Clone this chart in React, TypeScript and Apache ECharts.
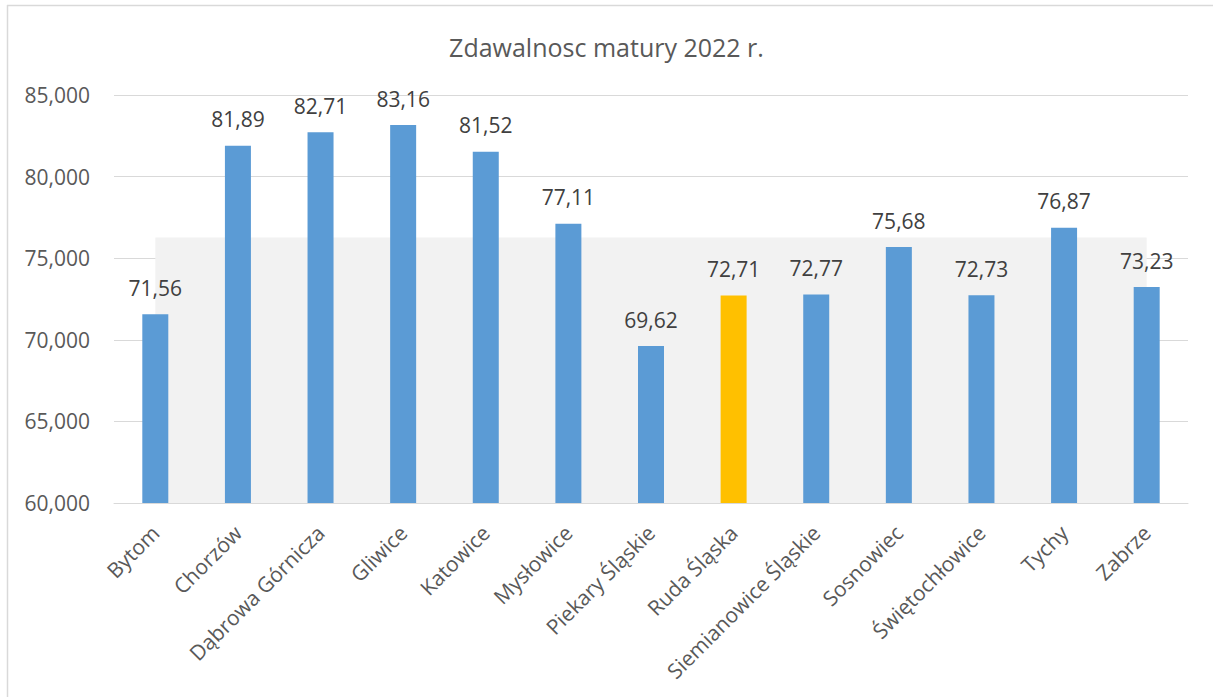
import React, { useEffect, useRef } from "react";
import * as echarts from "echarts";

const titleText = "Zdawalnosc matury 2022 r.";
const categories = [
  "Bytom",
  "Chorzów",
  "Dąbrowa Górnicza",
  "Gliwice",
  "Katowice",
  "Mysłowice",
  "Piekary Śląskie",
  "Ruda Śląska",
  "Siemianowice Śląskie",
  "Sosnowiec",
  "Świętochłowice",
  "Tychy",
  "Zabrze",
];
const passRates = [71.56, 81.89, 82.71, 83.16, 81.52, 77.11, 69.62, 72.71, 72.77, 75.68, 72.73, 76.87, 73.23];
const highlightedCity = "Ruda Śląska";
const averageValue = 76.27;
const averageSeries = categories.map(() => averageValue);

const FONT = "'Open Sans', sans-serif";

export default function App() {
  const ref = useRef<HTMLDivElement>(null);
  useEffect(() => {
    document.body.style.margin = "0";
    const chart = echarts.init(ref.current!, null, { renderer: "svg" });
    chart.setOption({
      animation: false,
      backgroundColor: "#ffffff",
      title: {
        text: titleText,
        left: "center",
        top: 29,
        textStyle: { fontFamily: FONT, fontSize: 25, fontWeight: "normal", color: "#595959" },
      },
      grid: { left: 114, right: 25, top: 95, bottom: 194, containLabel: false },
      xAxis: {
        type: "category",
        data: categories,
        boundaryGap: true,
        axisLine: { show: true, lineStyle: { color: "#d9d9d9", width: 1 } },
        axisTick: { show: false },
        axisLabel: {
          rotate: 45,
          interval: 0,
          margin: 26,
          fontFamily: FONT,
          fontSize: 21,
          color: "#595959",
        },
      },
      yAxis: {
        type: "value",
        min: 60,
        max: 85,
        interval: 5,
        axisLine: { show: false },
        axisTick: { show: false },
        splitLine: { lineStyle: { color: "#d9d9d9", width: 1 } },
        axisLabel: {
          margin: 24,
          fontFamily: FONT,
          fontSize: 21,
          color: "#595959",
          formatter: (v: number) => v.toFixed(3).replace(".", ","),
        },
      },
      series: [
        {
          type: "line",
          data: averageSeries,
          symbol: "none",
          lineStyle: { width: 0, opacity: 0 },
          areaStyle: { color: "#f2f2f2", opacity: 1, origin: "start" },
          z: 1,
          silent: true,
        },
        {
          type: "bar",
          data: passRates.map((v, i) => ({
            value: v,
            itemStyle: { color: categories[i] === highlightedCity ? "#FFC000" : "#5B9BD5" },
          })),
          barWidth: 26,
          z: 2,
          label: {
            show: true,
            position: "top",
            distance: 16,
            fontFamily: FONT,
            fontSize: 21,
            color: "#404040",
            formatter: (p: any) => Number(p.value).toFixed(2).replace(".", ","),
          },
        },
      ],
      graphic: [
        { type: "line", shape: { x1: 7.5, y1: 5, x2: 7.5, y2: 697 }, style: { stroke: "#d9d9d9", lineWidth: 1.5 } },
        { type: "line", shape: { x1: 7, y1: 5.5, x2: 1213, y2: 5.5 }, style: { stroke: "#d9d9d9", lineWidth: 1.5 } },
      ],
    });
    return () => chart.dispose();
  }, []);
  return <div ref={ref} style={{ width: 1213, height: 697 }} />;
}
